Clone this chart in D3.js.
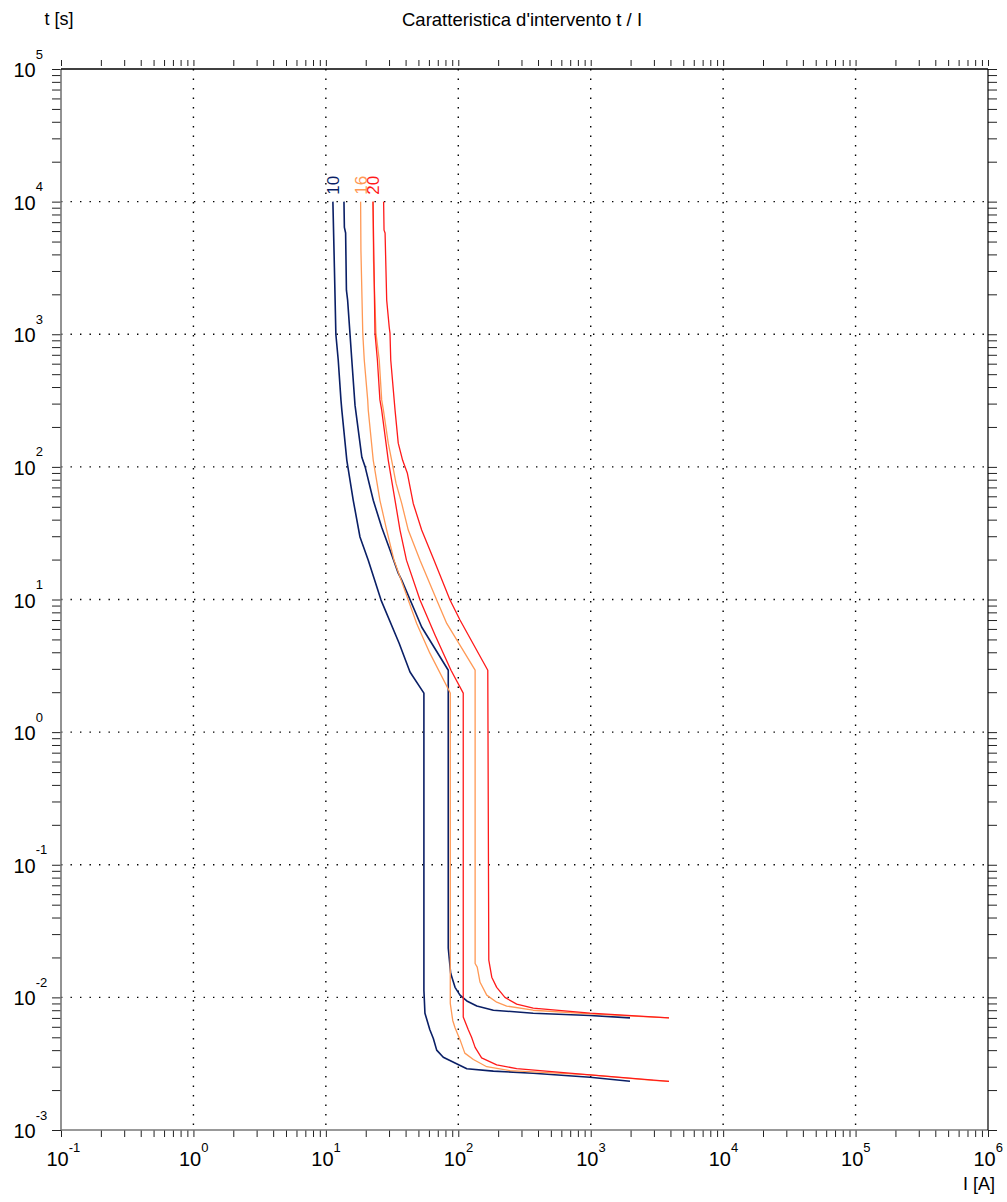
<!DOCTYPE html>
<html>
<head>
<meta charset="utf-8">
<title>Caratteristica d'intervento t / I</title>
<script src="https://cdn.jsdelivr.net/npm/d3@7/dist/d3.min.js"></script>
<style>
  body { margin: 0; background: #fff; }
  svg { font-family: "Liberation Sans", Arial, Helvetica, sans-serif; }
  .grid line { stroke: #000; stroke-width: 1.4; stroke-dasharray: 1.4 8.1; }
  .axis .tick line { stroke: #222; stroke-width: 1; }
  .curve { fill: none; stroke-linejoin: round; }
</style>
</head>
<body>
<svg id="chart"></svg>
<script>
// decades shown on the axes (powers of ten)
const xDecades = [-1, 0, 1, 2, 3, 4, 5, 6];
const yDecades = [-3, -2, -1, 0, 1, 2, 3, 4, 5];

// rated currents of the three breakers
const ratings = ['10', '16', '20'];

// [I (A), t (s)] - lower and upper bound of each tripping band
const band10Min = [[11.3, 10000], [11.6, 3200], [11.9, 1000], [12.4, 640], [13, 320], [13.2, 268], [14.4, 112],
  [16.1, 56], [18.1, 29.6], [20.9, 19.8], [26.1, 9.9], [35.7, 4.7], [43.2, 2.84], [55, 1.97], [55, 0.0113],
  [56, 0.0076], [61, 0.0057], [64.8, 0.0049], [68.7, 0.004], [77, 0.00354], [94.5, 0.0032], [116, 0.0029],
  [184, 0.00278], [367, 0.00268], [988, 0.0025], [1980, 0.00233]];
const band10Max = [[13.7, 10000], [13.8, 6400], [14.1, 5800], [14.3, 2150], [14.6, 1810], [15.2, 1020], [15.7, 640],
  [16.6, 292], [18.7, 118], [19.8, 100], [22.8, 56], [26.4, 35], [30.5, 23.6], [35.2, 15.8], [37.4, 14], [52.9, 6.2],
  [84, 2.93], [84, 0.0235], [87.6, 0.0152], [94.5, 0.0119], [103, 0.0104], [116, 0.0094], [138, 0.0086],
  [184, 0.008], [368, 0.0076], [988, 0.0073], [1980, 0.007]];
const band16Min = [[18.3, 10000], [18.4, 4300], [19, 1020], [19.5, 640], [20.7, 320], [20.9, 268], [22.8, 112],
  [25.6, 56], [28.8, 33.4], [32.7, 19.8], [48.5, 6.6], [61, 3.94], [87, 1.97], [87, 0.009], [90.8, 0.0067],
  [94.5, 0.0059], [103, 0.0048], [112, 0.0038], [130, 0.0034], [164, 0.003], [246, 0.0028], [988, 0.0026],
  [2950, 0.00237], [3900, 0.00233]];
const band16Max = [[22.7, 10000], [22.9, 3600], [23.9, 1020], [25.3, 640], [26.4, 320], [27.2, 268], [29.6, 151],
  [31.4, 112], [33.9, 75], [37.4, 53], [41.9, 33.4], [51.4, 19.8], [68.7, 9.9], [81.8, 6.6], [134, 2.93],
  [134, 0.018], [139, 0.0169], [146, 0.013], [164, 0.0104], [195, 0.0092], [232, 0.0086], [367, 0.008],
  [988, 0.0075], [3900, 0.007]];
const band20Min = [[22.7, 10000], [23.5, 1020], [24.5, 640], [25.6, 320], [26.4, 268], [29.6, 112], [33.3, 56],
  [36.3, 33.4], [40.6, 19.8], [51.4, 9.9], [66.7, 5.4], [88.1, 2.93], [109, 1.97], [109, 0.0071], [119, 0.0057],
  [126, 0.005], [134, 0.0042], [150, 0.0035], [195, 0.0031], [276, 0.0029], [988, 0.0026], [3900, 0.00233]];
const band20Max = [[27.3, 10000], [27.5, 6100], [28, 5800], [28.8, 1810], [30.1, 1130], [30.5, 1020], [30.9, 640],
  [33.3, 268], [35.2, 151], [38, 112], [41.2, 90], [45.7, 53], [52.9, 33.4], [65.6, 19.8], [86.6, 9.9], [103, 7],
  [167, 2.93], [170, 0.0191], [179, 0.0142], [195, 0.0119], [225, 0.01], [276, 0.0089], [368, 0.0083],
  [988, 0.0076], [3900, 0.007]];

class TripChart {
    constructor(_config, _data) {
        this.config = {
            parentElement: _config.parentElement,
            containerWidth: _config.containerWidth || 1007,
            containerHeight: _config.containerHeight || 1202,
            margin: {top: 69, right: 19, bottom: 72, left: 61},
            colors: _config.colors,
            widths: _config.widths
        };
        this.data = _data;
        this.initVis();
    }

    initVis() {
        let vis = this;

        vis.width = vis.config.containerWidth - vis.config.margin.left - vis.config.margin.right;
        vis.height = vis.config.containerHeight - vis.config.margin.top - vis.config.margin.bottom;

        vis.svg = d3.select(vis.config.parentElement)
            .attr('width', vis.config.containerWidth)
            .attr('height', vis.config.containerHeight);

        vis.chart = vis.svg.append('g')
            .attr('transform', `translate(${vis.config.margin.left}, ${vis.config.margin.top})`);

        vis.xScale = d3.scaleLog()
            .domain([Math.pow(10, xDecades[0]), Math.pow(10, xDecades[xDecades.length - 1])])
            .range([0, vis.width]);
        vis.yScale = d3.scaleLog()
            .domain([Math.pow(10, yDecades[0]), Math.pow(10, yDecades[yDecades.length - 1])])
            .range([vis.height, 0]);

        vis.updateVis();
    }

    updateVis() {
        let vis = this;

        // dotted grid on the inner decades
        let grid = vis.chart.append('g').attr('class', 'grid');
        grid.selectAll('.vgrid')
            .data(xDecades.slice(1, -1))
            .join('line')
            .attr('x1', d => vis.xScale(Math.pow(10, d)))
            .attr('x2', d => vis.xScale(Math.pow(10, d)))
            .attr('y1', 0)
            .attr('y2', vis.height);
        grid.selectAll('.hgrid')
            .data(yDecades.slice(1, -1))
            .join('line')
            .attr('class', 'hgrid')
            .attr('x1', 0)
            .attr('x2', vis.width)
            .attr('y1', d => vis.yScale(Math.pow(10, d)))
            .attr('y2', d => vis.yScale(Math.pow(10, d)));

        // log ticks on all four sides
        let noLabel = () => '';
        vis.chart.append('g')
            .attr('class', 'axis x-axis')
            .attr('transform', `translate(0, ${vis.height})`)
            .call(d3.axisBottom(vis.xScale).ticks(10).tickFormat(noLabel).tickSize(7).tickSizeOuter(0))
            .call(g => g.select('.domain').remove());
        vis.chart.append('g')
            .attr('class', 'axis x-axis-top')
            .attr('transform', 'translate(0, -3)')
            .call(d3.axisTop(vis.xScale).ticks(10).tickFormat(noLabel).tickSize(6).tickSizeOuter(0))
            .call(g => g.select('.domain').remove());
        vis.chart.append('g')
            .attr('class', 'axis y-axis')
            .call(d3.axisLeft(vis.yScale).ticks(10).tickFormat(noLabel).tickSize(9).tickSizeOuter(0))
            .call(g => g.select('.domain').remove());
        vis.chart.append('g')
            .attr('class', 'axis y-axis-right')
            .attr('transform', `translate(${vis.width}, 0)`)
            .call(d3.axisRight(vis.yScale).ticks(10).tickFormat(noLabel).tickSize(9).tickSizeOuter(0))
            .call(g => g.select('.domain').remove());

        // frame: left and bottom grey, top and right black
        vis.chart.append('line')
            .attr('x1', 0).attr('x2', 0).attr('y1', 0).attr('y2', vis.height)
            .attr('stroke', '#777').attr('stroke-width', 1.6);
        vis.chart.append('line')
            .attr('x1', 0).attr('x2', vis.width).attr('y1', vis.height).attr('y2', vis.height)
            .attr('stroke', '#777').attr('stroke-width', 1.6);
        vis.chart.append('line')
            .attr('x1', 0).attr('x2', vis.width).attr('y1', 0).attr('y2', 0)
            .attr('stroke', '#000').attr('stroke-width', 1.4);
        vis.chart.append('line')
            .attr('x1', vis.width).attr('x2', vis.width).attr('y1', 0).attr('y2', vis.height)
            .attr('stroke', '#000').attr('stroke-width', 1.2);

        // decade labels 10^n
        let xLabels = vis.chart.append('g').selectAll('text')
            .data(xDecades)
            .join('text')
            .attr('x', d => vis.xScale(Math.pow(10, d)) - 14.5)
            .attr('y', vis.height + 36)
            .style('font-size', '20px')
            .text('10');
        xLabels.append('tspan')
            .attr('dy', -14)
            .style('font-size', '13px')
            .text(d => d);

        let yLabels = vis.chart.append('g').selectAll('text')
            .data(yDecades)
            .join('text')
            .attr('x', -47.5)
            .attr('y', d => vis.yScale(Math.pow(10, d)) + 8)
            .style('font-size', '20px')
            .text('10');
        yLabels.append('tspan')
            .attr('dy', -18.5)
            .style('font-size', '13px')
            .text(d => d);

        this.renderVis();
    }

    renderVis() {
        let vis = this;

        let line = d3.line()
            .x(d => vis.xScale(d[0]))
            .y(d => vis.yScale(d[1]));

        vis.data.forEach((band, i) => {
            [band.min, band.max].forEach(points => {
                vis.chart.append('path')
                    .datum(points)
                    .attr('class', 'curve')
                    .attr('d', line)
                    .attr('stroke', vis.config.colors[i])
                    .attr('stroke-width', vis.config.widths[i]);
            });

            // rated current written vertically on top of the band
            let x0 = vis.xScale(band.min[0][0]) + 6;
            let y0 = vis.yScale(band.min[0][1]) - 7;
            vis.chart.append('text')
                .attr('transform', `translate(${x0}, ${y0}) rotate(-90)`)
                .attr('fill', vis.config.colors[i])
                .style('font-size', '17px')
                .text(band.name);
        });

        // titles
        vis.svg.append('text')
            .attr('x', 402)
            .attr('y', 26)
            .style('font-size', '18.5px')
            .text("Caratteristica d'intervento t / I");
        vis.svg.append('text')
            .attr('x', 44.5)
            .attr('y', 25)
            .style('font-size', '18px')
            .text('t [s]');
        vis.svg.append('text')
            .attr('x', 963)
            .attr('y', 1190)
            .style('font-size', '18px')
            .text('I [A]');
    }
}

const bands = [
    {name: ratings[0], min: band10Min, max: band10Max},
    {name: ratings[1], min: band16Min, max: band16Max},
    {name: ratings[2], min: band20Min, max: band20Max}
];

let tripChart = new TripChart({
    parentElement: '#chart',
    colors: ['#0a1f66', '#ff9955', '#ff1a1a'],
    widths: [1.6, 1.3, 1.3]
}, bands);
</script>
</body>
</html>
